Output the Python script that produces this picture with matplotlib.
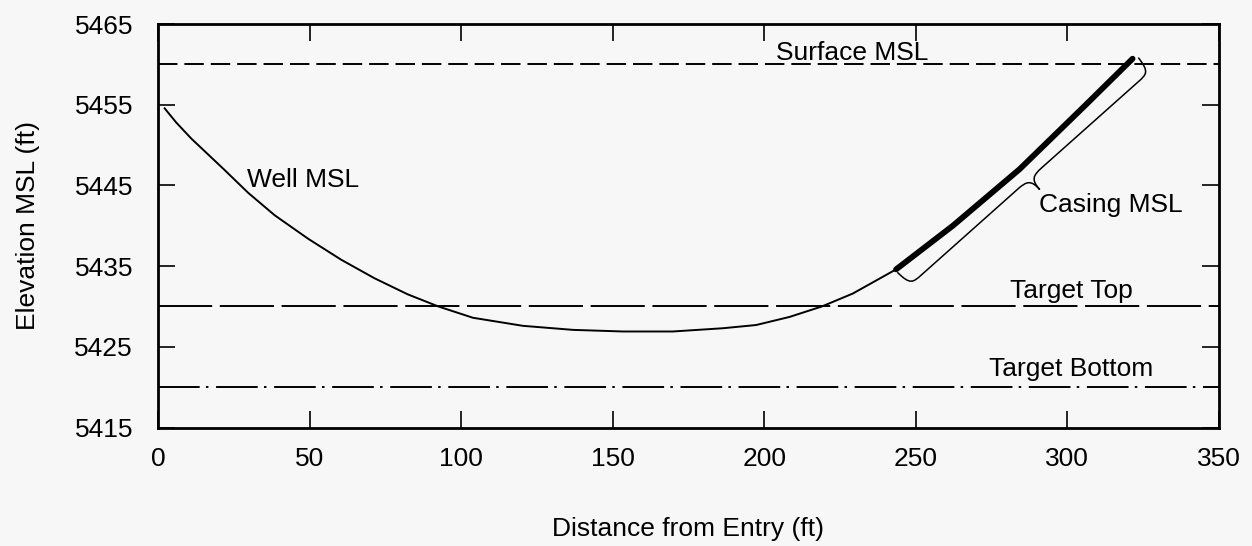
import numpy as np
import matplotlib
matplotlib.use("Agg")
import matplotlib.pyplot as plt
from matplotlib.path import Path
from matplotlib.patches import PathPatch

# values
well_x = [2.2, 6, 11, 22, 29.7, 38.5, 49.5, 60.4, 71.4, 82.4, 92.5, 103.9,
          120.4, 136.9, 153.4, 169.8, 186.3, 197.3, 208.3, 219, 229.2,
          243.5, 262.2, 284.2, 306.1, 321.5]
well_y = [5454.55, 5452.8, 5450.8, 5446.9, 5444.1, 5441.3, 5438.4, 5435.8,
          5433.5, 5431.5, 5430.0, 5428.6, 5427.6, 5427.1, 5426.9, 5426.9,
          5427.3, 5427.7, 5428.7, 5430.0, 5431.6, 5434.6, 5440.0, 5447.0,
          5455.0, 5460.7]
casing_start = 243.5        # casing begins at this distance (ft)
surface_msl = 5460
target_top = 5430
target_bottom = 5420

x_ticks = [0, 50, 100, 150, 200, 250, 300, 350]
y_ticks = [5415, 5425, 5435, 5445, 5455, 5465]

plt.rcParams["font.family"] = ["Liberation Sans", "DejaVu Sans"]
plt.rcParams["lines.scale_dashes"] = False
bg = "#f7f7f7"

fig = plt.figure(figsize=(12.52, 5.46), dpi=100, facecolor=bg)
ax = fig.add_axes([0.1262, 0.217, 0.9736 - 0.1262, 0.956 - 0.217], facecolor=bg)
ax.set_xlim(0, 350)
ax.set_ylim(5415, 5465)

# reference levels
ax.axhline(surface_msl, color="black", lw=1.4, dashes=(14, 5))
ax.axhline(target_top, color="black", lw=1.4, dashes=(39, 5.5))
ax.axhline(target_bottom, color="black", lw=1.4, dashes=(30, 4.5, 1.8, 5.5))

# well path and casing
ax.plot(well_x, well_y, color="black", lw=1.4, solid_joinstyle="round")
cx = [x for x in well_x if x >= casing_start]
cy = [y for x, y in zip(well_x, well_y) if x >= casing_start]
ax.plot(cx, cy, color="black", lw=4.2, solid_capstyle="round",
        solid_joinstyle="round")

# curly brace next to the casing (built in pixels, then mapped back to data)
p0 = ax.transData.transform((cx[0], cy[0]))
p1 = ax.transData.transform((cx[-1], cy[-1]))
t = p1 - p0
L = np.hypot(*t) + 6
t = t / np.hypot(*t)
n = np.array([t[1], -t[0]])
h, r, c = 21, 16, 15
m = L / 2
uv = [(0, 3), (1, h), (5, h), (r, h),
      (m - r, h),
      (m - 4, h), (m, h + 2), (m, h + c),
      (m, h + 2), (m + 4, h), (m + r, h),
      (L - r, h),
      (L - 5, h), (L - 1, h), (L, 3)]
codes = [Path.MOVETO, Path.CURVE4, Path.CURVE4, Path.CURVE4,
         Path.LINETO,
         Path.CURVE4, Path.CURVE4, Path.CURVE4,
         Path.CURVE4, Path.CURVE4, Path.CURVE4,
         Path.LINETO,
         Path.CURVE4, Path.CURVE4, Path.CURVE4]
pix = np.array([p0 - 1 * t + u * t + v * n for u, v in uv])
verts = ax.transData.inverted().transform(pix)
ax.add_patch(PathPatch(Path(verts, codes), facecolor="none",
                       edgecolor="black", lw=1.1))

# labels on the chart
fs = 19
ax.text(229, 5460.5, "Surface MSL", ha="center", va="baseline", fontsize=fs)
ax.text(29.2, 5444.8, "Well MSL", ha="left", va="baseline", fontsize=fs)
ax.text(290.7, 5441.7, "Casing MSL", ha="left", va="baseline", fontsize=fs)
ax.text(301.4, 5431.0, "Target Top", ha="center", va="baseline", fontsize=fs)
ax.text(301.3, 5421.4, "Target Bottom", ha="center", va="baseline", fontsize=fs)

ax.set_xticks(x_ticks)
ax.set_yticks(y_ticks)
ax.tick_params(direction="in", length=12, width=1.2, top=True, right=True,
               labelsize=fs)
ax.tick_params(axis="x", pad=14)
ax.tick_params(axis="y", pad=18)
for s in ax.spines.values():
    s.set_linewidth(2)

ax.set_xlabel("Distance from Entry (ft)", fontsize=fs, labelpad=33)
ax.set_ylabel("Elevation MSL (ft)", fontsize=fs, labelpad=25)

fig.savefig("out.png", dpi=100, facecolor=bg)
